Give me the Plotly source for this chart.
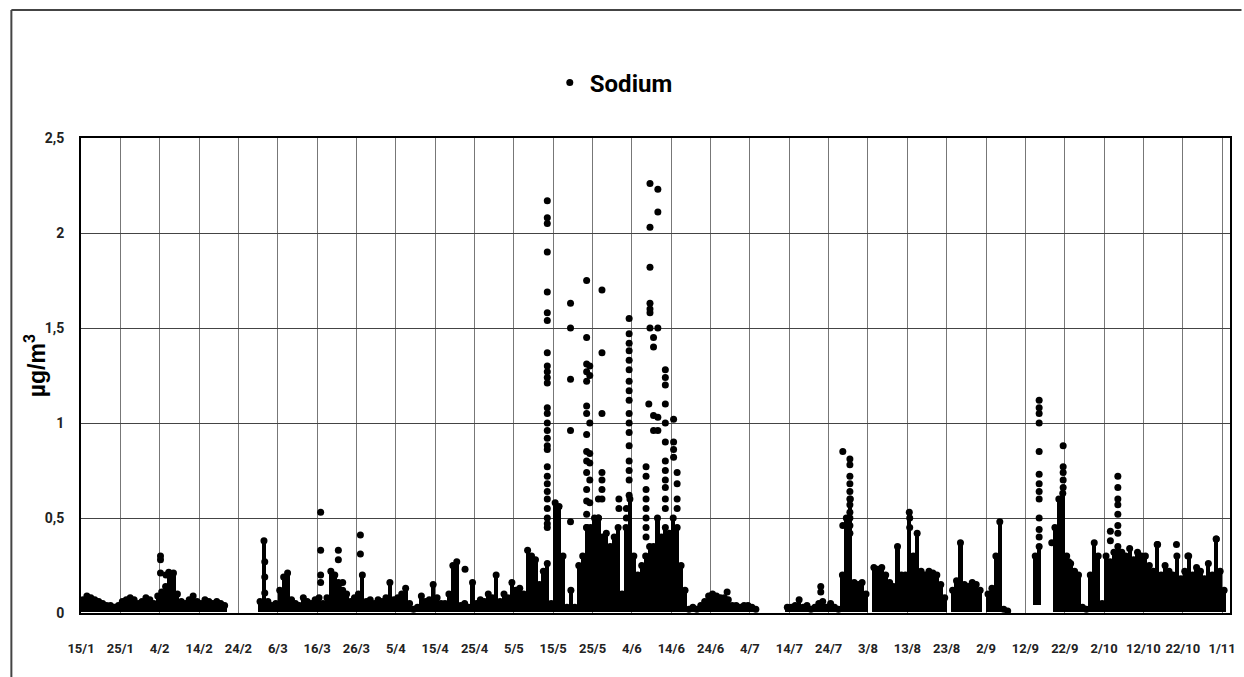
import plotly.graph_objects as go
from datetime import datetime, timedelta

# ---------------- data ----------------
start_date = "2021-01-15"          # day 0 of the series (15/1)

# daily upper envelope of the dense hourly mass, µg/m³ (None = no data)
day_high = [
    0.07, 0.09, 0.08, 0.07, 0.06, 0.05, 0.04, 0.04, 0.03, 0.04,
    0.06, 0.07, 0.08, 0.07, 0.05, 0.06, 0.08, 0.07, 0.05, 0.09,
    0.11, 0.14, 0.20, 0.21, 0.10, 0.06, 0.05, 0.07, 0.09, 0.06,
    0.05, 0.07, 0.06, 0.05, 0.06, 0.05, 0.04, None, None, None,
    None, None, None, None, None, 0.06, 0.38, 0.06, 0.04, 0.05,
    0.12, 0.19, 0.21, 0.07, 0.05, 0.04, 0.08, 0.06, 0.05, 0.07,
    0.08, 0.05, 0.08, 0.22, 0.20, 0.15, 0.12, 0.10, 0.06, 0.08,
    0.10, 0.20, 0.06, 0.07, 0.05, 0.07, 0.06, 0.08, 0.16, 0.07,
    0.08, 0.10, 0.13, 0.05, 0.02, 0.03, 0.09, 0.06, 0.07, 0.15,
    0.08, 0.05, 0.05, 0.10, 0.25, 0.27, 0.04, 0.05, 0.03, 0.16,
    0.05, 0.07, 0.06, 0.10, 0.08, 0.20, 0.06, 0.10, 0.08, 0.16,
    0.12, 0.13, 0.10, 0.33, 0.30, 0.28, 0.15, 0.22, 0.26, 0.05,
    0.58, 0.56, 0.30, 0.03, 0.12, 0.03, 0.25, 0.30, 0.45, 0.45,
    0.50, 0.50, 0.40, 0.42, 0.35, 0.40, 0.45, 0.10, 0.45, 0.60,
    0.30, 0.20, 0.25, 0.30, 0.35, 0.35, 0.50, 0.40, 0.45, 0.42,
    0.50, 0.45, 0.25, 0.12, 0.02, 0.03, 0.02, 0.04, 0.06, 0.09,
    0.10, 0.09, 0.08, 0.08, 0.07, 0.04, 0.04, 0.03, 0.04, 0.04,
    0.03, 0.02, None, None, None, None, None, None, None, 0.03,
    0.03, 0.04, 0.07, 0.03, 0.04, 0.02, 0.03, 0.05, 0.06, 0.03,
    0.05, 0.03, 0.02, 0.20, 0.50, 0.60, 0.16, 0.15, 0.16, 0.10,
    None, 0.24, 0.23, 0.24, 0.20, 0.16, 0.14, 0.35, 0.20, 0.20,
    0.53, 0.30, 0.42, 0.22, 0.20, 0.22, 0.21, 0.20, 0.15, 0.08,
    None, 0.12, 0.17, 0.37, 0.15, 0.14, 0.16, 0.15, 0.12, None,
    0.10, 0.13, 0.30, 0.48, 0.02, 0.01, None, None, None, None,
    None, None, 0.30, 0.35, None, None, None, 0.45, 0.60, 0.63,
    0.30, 0.26, 0.22, 0.20, 0.03, 0.02, 0.20, 0.37, 0.30, 0.05,
    0.30, 0.27, 0.32, 0.35, 0.32, 0.30, 0.34, 0.28, 0.32, 0.30,
    0.30, 0.25, 0.22, 0.36, 0.20, 0.25, 0.22, 0.20, 0.30, 0.18,
    0.22, 0.30, 0.20, 0.24, 0.22, 0.18, 0.26, 0.20, 0.39, 0.22,
    0.12, None,
]
day_floor = 0.005
raised_floor = {242: 0.04, 243: 0.04}

# isolated high readings: (day offset from 15/1, values in µg/m³)
spike_groups = [
    (20.2, [0.30, 0.28, 0.21]), (21.6, [0.20]), (22.3, [0.215]),
    (46.7, [0.27, 0.19, 0.105]),
    (60.9, [0.53, 0.33, 0.20, 0.16]), (65.4, [0.33, 0.28, 0.16]), (66.5, [0.16]),
    (71.0, [0.41, 0.31]),
    (97.6, [0.23]),
    (118.5, [2.17, 2.08, 2.05, 1.90, 1.69, 1.58, 1.54, 1.37, 1.30, 1.27, 1.24, 1.21,
             1.08, 1.05, 1.00, 0.96, 0.92, 0.88, 0.86, 0.77, 0.72, 0.68, 0.64, 0.60,
             0.55, 0.50, 0.47, 0.45]),
    (124.4, [1.63, 1.50, 1.23, 0.96, 0.48]),
    (128.5, [1.75, 1.45, 1.31, 1.27, 1.22, 1.09, 1.05, 0.94, 0.85, 0.80, 0.74,
             0.65, 0.59, 0.52, 0.45]),
    (129.3, [1.30, 1.25, 1.00, 0.84, 0.79, 0.70, 0.58]),
    (131.5, [0.60, 0.50]),
    (132.4, [1.70, 1.37, 1.05, 0.74, 0.70, 0.65, 0.60]),
    (136.7, [0.60, 0.55]),
    (138.6, [0.55, 0.50]),
    (139.3, [1.55, 1.47, 1.42, 1.38, 1.33, 1.28, 1.22, 1.17, 1.12, 1.05, 1.00,
             0.95, 0.88, 0.80, 0.75, 0.70, 0.62]),
    (143.6, [0.77, 0.72, 0.65, 0.60, 0.55, 0.50, 0.45, 0.40]), (144.3, [1.10]),
    (144.6, [2.26, 2.03, 1.82, 1.63, 1.60, 1.58, 1.50]),
    (145.5, [1.45, 1.40, 1.04, 0.96]),
    (146.6, [2.23, 2.11, 1.50, 1.03, 0.96]),
    (148.5, [1.28, 1.24, 1.20, 1.10, 1.00, 0.90, 0.80, 0.75, 0.70, 0.66, 0.60, 0.55]),
    (150.6, [1.02, 0.90, 0.86, 0.82]), (151.5, [0.74, 0.68, 0.60, 0.55]),
    (164.2, [0.11]),
    (188.0, [0.14, 0.11]),
    (193.6, [0.85, 0.46]),
    (195.4, [0.81, 0.78, 0.72, 0.68, 0.64, 0.60, 0.57, 0.53, 0.50, 0.46, 0.42]),
    (210.6, [0.50, 0.45]),
    (243.5, [1.12, 1.08, 1.05, 1.00, 0.85, 0.73, 0.68, 0.64, 0.60, 0.50, 0.44, 0.40]),
    (246.7, [0.37]),
    (249.6, [0.88, 0.77, 0.74, 0.70, 0.66]),
    (251.0, [0.27]),
    (261.6, [0.43, 0.38]),
    (263.5, [0.72, 0.66, 0.60, 0.57, 0.52, 0.46, 0.42]),
    (273.6, [0.36]), (278.4, [0.36]), (281.3, [0.30]), (288.5, [0.39]),
]

tick_labels = ["15/1", "25/1", "4/2", "14/2", "24/2", "6/3", "16/3", "26/3", "5/4",
               "15/4", "25/4", "5/5", "15/5", "25/5", "4/6", "14/6", "24/6", "4/7",
               "14/7", "24/7", "3/8", "13/8", "23/8", "2/9", "12/9", "22/9", "2/10",
               "12/10", "22/10", "1/11"]
x_range = ["2021-01-15", "2021-11-03"]
y_ticks = [0, 0.5, 1, 1.5, 2, 2.5]

# ---------------- build figure ----------------
t0 = datetime.fromisoformat(start_date)

def at(day):
    return t0 + timedelta(days=day)

bar_x, bar_base, bar_len, top_x, top_y = [], [], [], [], []
for d, h in enumerate(day_high):
    if h is None:
        continue
    lo = raised_floor.get(d, day_floor)
    bar_x.append(at(d + 0.5))
    bar_base.append(lo)
    bar_len.append(max(h - lo, 0.0))
    top_x.append(at(d + 0.5))
    top_y.append(h)

sx, sy = [], []
for d, vals in spike_groups:
    for v in vals:
        sx.append(at(d))
        sy.append(v)

cond = "Roboto, Liberation Sans, Arial, sans-serif"

fig = go.Figure()
fig.add_trace(go.Bar(
    x=bar_x, y=bar_len, base=bar_base, width=86400000 * 1.05,
    marker=dict(color="black", line=dict(width=0)),
    showlegend=False, hoverinfo="skip"))
fig.add_trace(go.Scatter(
    x=top_x, y=top_y, mode="markers",
    marker=dict(color="black", size=7),
    showlegend=False, hoverinfo="skip", cliponaxis=False))
fig.add_trace(go.Scatter(
    x=sx, y=sy, mode="markers", name="Sodium",
    marker=dict(color="black", size=7), cliponaxis=False))

tickvals = [at(10 * i) for i in range(len(tick_labels))]

fig.update_layout(
    width=1244, height=677,
    margin=dict(l=81, r=8, t=138, b=64),
    paper_bgcolor="white", plot_bgcolor="white",
    separators=",.",
    bargap=0,
    showlegend=True,
    legend=dict(x=0.408, y=1.116, xanchor="left", yanchor="middle",
                orientation="h",
                font=dict(family=cond, size=24, color="black", weight="bold"),
                itemwidth=30, bgcolor="rgba(0,0,0,0)"),
    xaxis=dict(type="date", range=x_range, tickvals=tickvals, ticktext=tick_labels,
               showgrid=True, gridcolor="#777", gridwidth=1,
               showline=True, linecolor="black", linewidth=2, mirror=True,
               ticks="", ticklabelstandoff=22,
               tickfont=dict(family=cond, size=13, color="#222", weight="bold"),
               zeroline=False),
    yaxis=dict(range=[0, 2.5], tickvals=y_ticks,
               showgrid=True, gridcolor="#444", gridwidth=1,
               showline=True, linecolor="black", linewidth=2, mirror=True,
               ticks="", ticklabelstandoff=12,
               tickfont=dict(family=cond, size=14, color="#222", weight="bold"),
               zeroline=False),
    annotations=[dict(text="µg/m<sup>3</sup>", xref="paper", yref="paper",
                      x=-0.0398, y=0.52, xanchor="center", yanchor="middle",
                      textangle=-90, showarrow=False,
                      font=dict(family="Liberation Sans, Arial, sans-serif", size=23,
                                color="black", weight="bold"))],
    shapes=[
        dict(type="line", xref="paper", yref="paper", x0=-0.0606, x1=1.01,
             y0=1.2695, y1=1.2695, line=dict(color="#444", width=2)),
        dict(type="line", xref="paper", yref="paper", x0=-0.0606, x1=-0.0606,
             y0=1.2695, y1=-0.14, line=dict(color="#444", width=2)),
    ],
)

fig.write_html("out.html")
